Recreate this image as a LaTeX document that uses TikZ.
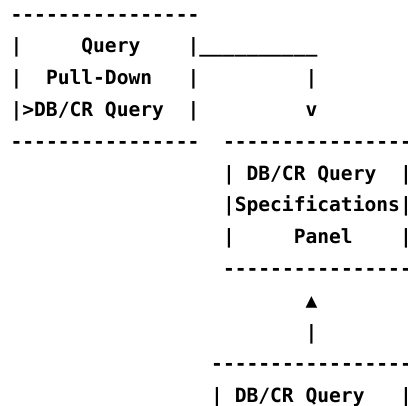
\documentclass[tikz,border=0pt]{standalone}
\usepackage{fontspec}
\newfontfamily\asciifont{DejaVu Sans Mono}
\begin{document}
\begin{tikzpicture}[
    x=11.8pt, y=-31.8pt,
    txt/.style={anchor=base west, inner sep=0pt, outer sep=0pt,
      font=\asciifont\bfseries\fontsize{19.6pt}{23pt}\selectfont}
]
  \useasboundingbox (0pt,0pt) rectangle (408pt,-406pt);
  \begin{scope}[shift={(10.6pt,-21.2pt)}]
    % ===== Query pull-down (top left) =====
    \foreach \c in {0,...,15} {
      \node[txt] (pdtop\c) at (\c,0) {-};
      \node[txt] (pdbot\c) at (\c,4) {-};
    }
    \foreach \r in {1,2,3} {
      \node[txt] (pdl\r) at (0,\r) {|};
      \node[txt] (pdr\r) at (15,\r) {|};
    }
    \node[txt] (pdquery) at (6,1) {Query};
    \node[txt] (pdpull) at (3,2) {Pull-Down};
    \node[txt] (pdsel) at (1,3) {>DB/CR Query};

    % link pull-down -> panel
    \node[txt] (lnkrun) at (16,1) {\_\_\_\_\_\_\_\_\_\_};
    \node[txt] (lnkbar) at (25,2) {|};
    \node[txt] (lnkv) at (25,3) {v};

    % ===== Specifications panel (middle right) =====
    \foreach \c in {18,...,33} {
      \node[txt] (sptop\c) at (\c,4) {-};
      \node[txt] (spbot\c) at (\c,8) {-};
    }
    \foreach \r in {5,6,7} {
      \node[txt] (spl\r) at (18,\r) {|};
      \node[txt] (spr\r) at (33,\r) {|};
    }
    \node[txt] (spquery) at (20,5) {DB/CR Query};
    \node[txt] (spspec) at (19,6) {Specifications};
    \node[txt] (sppanel) at (24,7) {Panel};

    % link lower panel -> specifications
    \node[txt] (uparrow) at (25,9) {▲};
    \node[txt] (upbar) at (25,10) {|};

    % ===== lower panel (cut off at the bottom) =====
    \foreach \c in {17,...,33} {
      \node[txt] (lotop\c) at (\c,11) {-};
    }
    \node[txt] (lol) at (17,12) {|};
    \node[txt] (loquery) at (19,12) {DB/CR Query};
    \node[txt] (lor) at (33,12) {|};
  \end{scope}
\end{tikzpicture}
\end{document}
